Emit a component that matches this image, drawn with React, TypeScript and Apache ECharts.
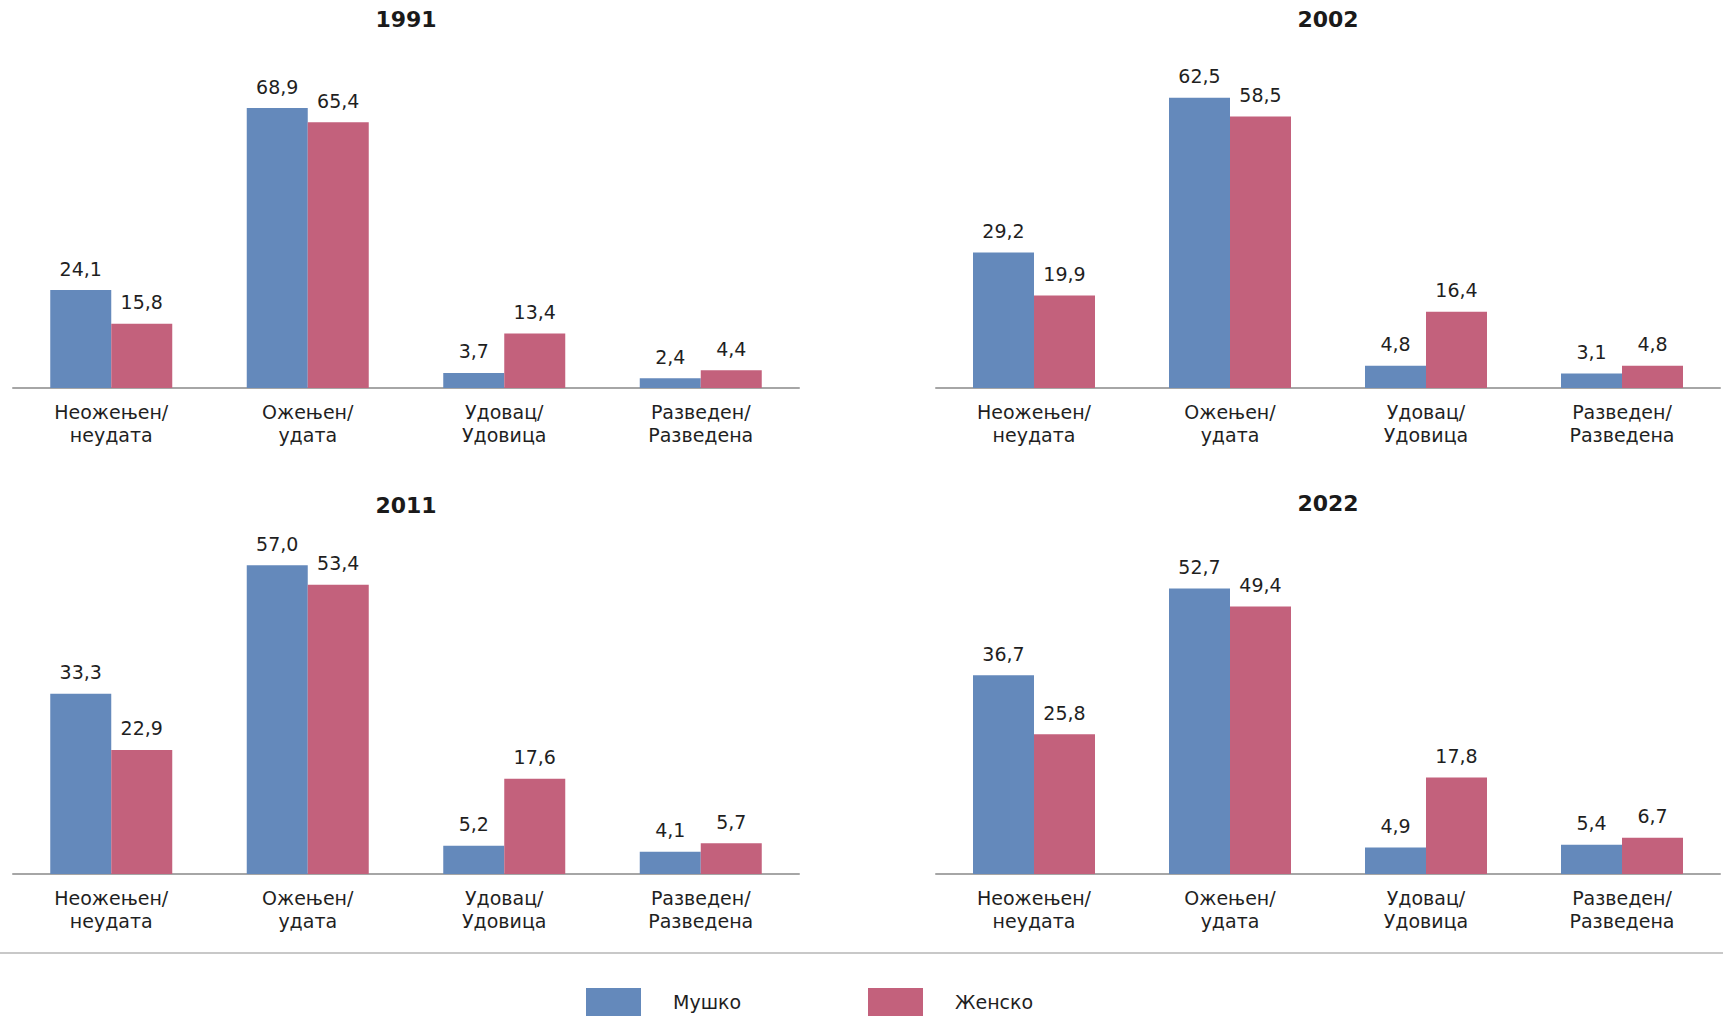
import React, { useEffect, useRef } from "react";
import * as echarts from "echarts";

const categories = [
  "Неожењен/\nнеудата",
  "Ожењен/\nудата",
  "Удовац/\nУдовица",
  "Разведен/\nРазведена",
];
const years = ["1991", "2002", "2011", "2022"];
const seriesNames = ["Мушко", "Женско"];

const male1991 = [24.1, 68.9, 3.7, 2.4];
const female1991 = [15.8, 65.4, 13.4, 4.4];
const male2002 = [29.2, 62.5, 4.8, 3.1];
const female2002 = [19.9, 58.5, 16.4, 4.8];
const male2011 = [33.3, 57.0, 5.2, 4.1];
const female2011 = [22.9, 53.4, 17.6, 5.7];
const male2022 = [36.7, 52.7, 4.9, 5.4];
const female2022 = [25.8, 49.4, 17.8, 6.7];

const yMax = [80, 70, 60, 60];

const maleData = [male1991, male2002, male2011, male2022];
const femaleData = [female1991, female2002, female2011, female2022];

const BLUE = "#6489BB";
const PINK = "#C3617C";
const FONT = "DejaVu Sans";
const TEXT = "#1f1f1f";

const panels = [
  { left: 13, top: 63, width: 786, titleX: 406, titleY: 19 },
  { left: 936, top: 63, width: 784, titleX: 1328, titleY: 19 },
  { left: 13, top: 549, width: 786, titleX: 406, titleY: 505 },
  { left: 936, top: 549, width: 784, titleX: 1328, titleY: 503 },
];
const PLOT_H = 325;

function fmt(v: number) {
  return v.toFixed(1).replace(".", ",");
}

export default function App() {
  const ref = useRef<HTMLDivElement>(null);
  useEffect(() => {
    if (!ref.current) return;
    const chart = echarts.init(ref.current, null, { renderer: "svg" });
    const grid = panels.map((p) => ({
      left: p.left,
      top: p.top,
      width: p.width,
      height: PLOT_H,
      containLabel: false,
    }));
    const xAxis = panels.map((_, i) => ({
      type: "category",
      gridIndex: i,
      data: categories,
      axisTick: { show: false },
      axisLine: { show: true, lineStyle: { color: "#A6A6A6", width: 2 } },
      axisLabel: {
        interval: 0,
        margin: 12,
        fontFamily: FONT,
        fontSize: 19,
        lineHeight: 23,
        color: TEXT,
      },
      splitLine: { show: false },
    }));
    const yAxis = panels.map((_, i) => ({
      type: "value",
      gridIndex: i,
      min: 0,
      max: yMax[i],
      show: false,
      splitLine: { show: false },
    }));
    const label = {
      show: true,
      position: "top",
      distance: 12,
      fontFamily: FONT,
      fontSize: 19,
      color: TEXT,
      formatter: (p: any) => fmt(p.value),
    };
    const series: any[] = [];
    panels.forEach((_, i) => {
      series.push({
        type: "bar",
        name: seriesNames[0],
        xAxisIndex: i,
        yAxisIndex: i,
        data: maleData[i],
        barWidth: 61,
        barGap: "0%",
        itemStyle: { color: BLUE },
        label,
      });
      series.push({
        type: "bar",
        name: seriesNames[1],
        xAxisIndex: i,
        yAxisIndex: i,
        data: femaleData[i],
        barWidth: 61,
        barGap: "0%",
        itemStyle: { color: PINK },
        label,
      });
    });
    const legendCommon = {
      orient: "horizontal",
      top: 988,
      padding: 0,
      itemWidth: 55,
      itemHeight: 28,
      icon: "rect",
      selectedMode: false,
      textStyle: {
        fontFamily: FONT,
        fontSize: 19,
        color: TEXT,
        padding: [0, 0, 0, 27],
      },
    };
    const graphic: any[] = panels.map((p, i) => ({
      type: "text",
      x: p.titleX,
      y: p.titleY,
      style: {
        text: years[i],
        fontFamily: FONT,
        fontSize: 22,
        fontWeight: "bold",
        fill: "#1a1a1a",
        align: "center",
        verticalAlign: "middle",
      },
    }));
    graphic.push({
      type: "line",
      shape: { x1: 0, y1: 953, x2: 1723, y2: 953 },
      style: { stroke: "#C8C8C8", lineWidth: 2 },
    });
    chart.setOption({
      animation: false,
      backgroundColor: "#ffffff",
      grid,
      xAxis,
      yAxis,
      series,
      legend: [
        { ...legendCommon, left: 586, data: [seriesNames[0]] },
        { ...legendCommon, left: 868, data: [seriesNames[1]] },
      ],
      graphic,
    });
    return () => chart.dispose();
  }, []);
  return (
    <div
      ref={ref}
      style={{ position: "absolute", left: 0, top: 0, width: 1723, height: 1016 }}
    />
  );
}
